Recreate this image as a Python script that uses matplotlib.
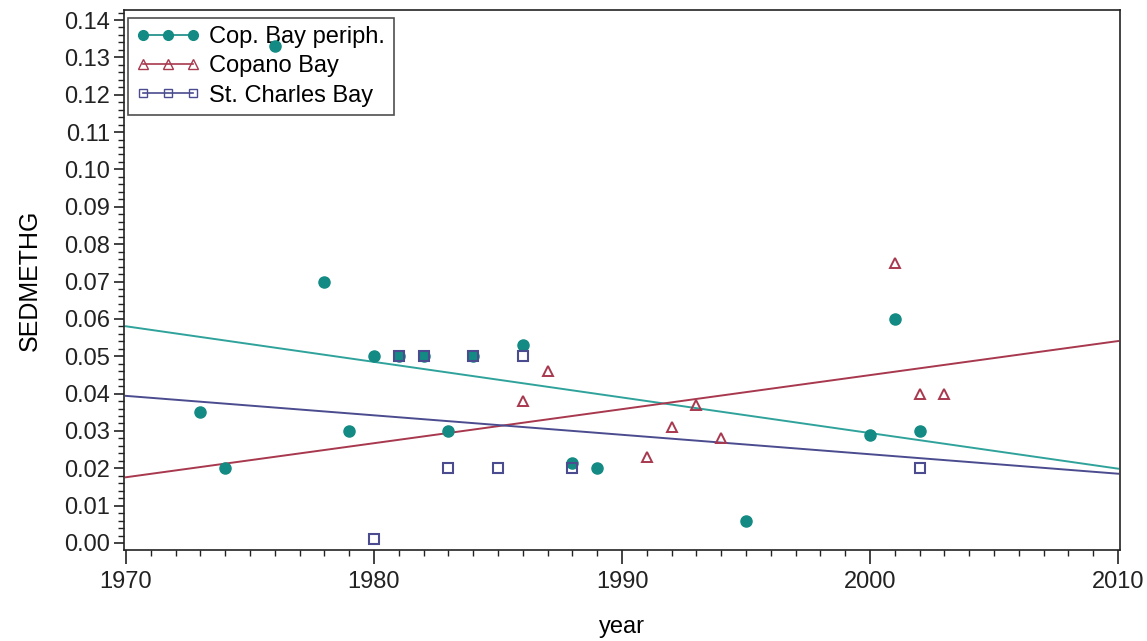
import numpy as np
import matplotlib
matplotlib.use('Agg')
import matplotlib.pyplot as plt
from matplotlib.ticker import MultipleLocator, FormatStrFormatter
from matplotlib.lines import Line2D

plt.rcParams['font.family'] = ['Liberation Sans', 'DejaVu Sans']

# Cop. Bay periph.
periph_year = [1973, 1974, 1976, 1978, 1979, 1980, 1981, 1982, 1983, 1984,
               1986, 1988, 1989, 1995, 2000, 2001, 2002]
periph_val = [0.035, 0.020, 0.133, 0.070, 0.030, 0.050, 0.050, 0.050, 0.030, 0.050,
              0.053, 0.0215, 0.020, 0.006, 0.029, 0.060, 0.030]

# Copano Bay
copano_year = [1986, 1987, 1991, 1992, 1993, 1994, 2001, 2002, 2003]
copano_val = [0.038, 0.046, 0.023, 0.031, 0.037, 0.028, 0.075, 0.040, 0.040]

# St. Charles Bay
charles_year = [1980, 1981, 1982, 1983, 1984, 1985, 1986, 1988, 2002]
charles_val = [0.001, 0.050, 0.050, 0.020, 0.050, 0.020, 0.050, 0.020, 0.020]

teal = '#138a83'
teal_line = '#2fa39b'
red = '#a8384e'
blue = '#4b4b8f'

fig = plt.figure(figsize=(11.47, 6.41), dpi=100)
ax = fig.add_axes([0.1081, 0.142, 0.8684, 0.8424])

# regression lines over the full axis range
xs = np.array([1970, 2010])
for yrs, vals, col in [(periph_year, periph_val, teal_line),
                       (copano_year, copano_val, red),
                       (charles_year, charles_val, blue)]:
    b, a = np.polyfit(yrs, vals, 1)
    ax.plot(xs, a + b * xs, color=col, lw=1.4, zorder=2)

ax.plot(periph_year, periph_val, 'o', color=teal, ms=8, mec=teal, zorder=3)
ax.plot(copano_year, copano_val, '^', mfc='none', mec=red, ms=7, mew=1.4, zorder=4)
ax.plot(charles_year, charles_val, 's', mfc='none', mec=blue, ms=7, mew=1.5, zorder=5)

ax.set_xlim(1969.92, 2010.08)
ax.set_ylim(-0.00187, 0.14268)
ax.xaxis.set_major_locator(MultipleLocator(10))
ax.xaxis.set_minor_locator(MultipleLocator(1))
ax.yaxis.set_major_locator(MultipleLocator(0.01))
ax.yaxis.set_minor_locator(MultipleLocator(0.002))
ax.yaxis.set_major_formatter(FormatStrFormatter('%.2f'))
ax.tick_params(axis='both', which='major', direction='out', length=7, width=1.2,
               labelsize=17, colors='#222222')
ax.tick_params(axis='both', which='minor', direction='out', length=4, width=1.0,
               colors='#222222')
ax.tick_params(axis='x', which='major', length=10, pad=5)
ax.tick_params(axis='y', which='major', pad=3)
for s in ax.spines.values():
    s.set_linewidth(1.2)
    s.set_color('#222222')

ax.set_xlabel('year', fontsize=17, labelpad=17)
ax.set_ylabel('SEDMETHG', fontsize=18, labelpad=16)

handles = [
    Line2D([], [], color=teal, marker='o', ms=7, lw=1.2),
    Line2D([], [], color=red, marker='^', mfc='none', ms=6.5, lw=1.2),
    Line2D([], [], color=blue, marker='s', mfc='none', ms=6, lw=1.2),
]
leg = ax.legend(handles, ['Cop. Bay periph.', 'Copano Bay', 'St. Charles Bay'],
                loc='upper left', bbox_to_anchor=(0.004, 0.985), numpoints=3,
                fontsize=17, frameon=True, fancybox=False, handlelength=2.7,
                handletextpad=0.4, borderpad=0.35, labelspacing=0.3,
                borderaxespad=0)
leg.get_frame().set_edgecolor('#222222')
leg.get_frame().set_linewidth(1.2)
leg.set_zorder(2.5)

fig.savefig('out.png', dpi=100)
